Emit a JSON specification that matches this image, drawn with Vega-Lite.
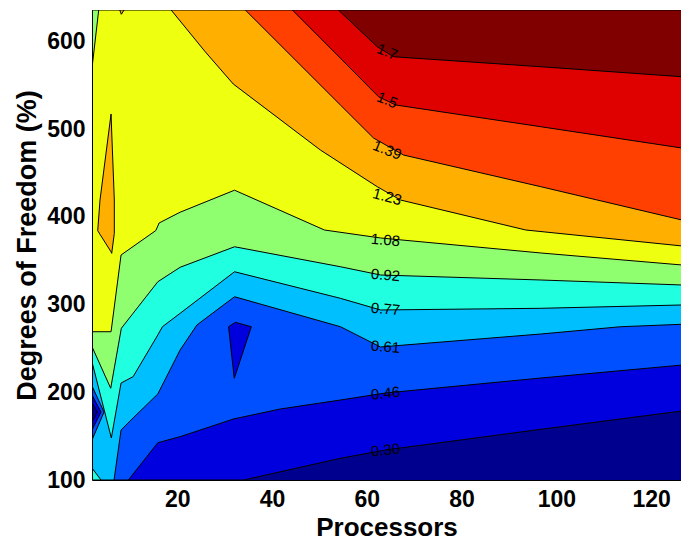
{
"$schema": "https://vega.github.io/schema/vega-lite/v6.json",
"width": 589, "height": 470,
"autosize": {"type": "none"},
"padding": {"left": 92, "top": 10, "right": 0, "bottom": 63},
"background": "white",
"view": {"stroke": null},
"config": {"font": "Liberation Sans"},
"datasets": {
"areas": [
{"p":"L0","b":"b0","x":2,"y":100,"y2":636},{"p":"L0","b":"b0","x":126.5,"y":100,"y2":636},
{"p":"L1","b":"b1","x":2,"y":100,"y2":636},{"p":"L1","b":"b1","x":34.0,"y":100,"y2":636},{"p":"L1","b":"b1","x":54.4,"y":124.7,"y2":636},{"p":"L1","b":"b1","x":63.9,"y":134.2,"y2":636},{"p":"L1","b":"b1","x":96.7,"y":157.8,"y2":636},{"p":"L1","b":"b1","x":126.5,"y":178.7,"y2":636},
{"p":"L2","b":"b2","x":2,"y":100,"y2":636},{"p":"L2","b":"b2","x":9.67,"y":100,"y2":636},{"p":"L2","b":"b2","x":15.89,"y":142.5,"y2":636},{"p":"L2","b":"b2","x":20.6,"y":149.4,"y2":636},{"p":"L2","b":"b2","x":31.87,"y":169.6,"y2":636},{"p":"L2","b":"b2","x":41.75,"y":181.0,"y2":636},{"p":"L2","b":"b2","x":54.43,"y":191.2,"y2":636},{"p":"L2","b":"b2","x":63.94,"y":199.2,"y2":636},{"p":"L2","b":"b2","x":96.71,"y":216.3,"y2":636},{"p":"L2","b":"b2","x":126.5,"y":231.1,"y2":636},
{"p":"L3","b":"b3","x":2,"y":100,"y2":636},{"p":"L3","b":"b3","x":6.65,"y":100,"y2":636},{"p":"L3","b":"b3","x":8.13,"y":157.0,"y2":636},{"p":"L3","b":"b3","x":10.67,"y":170.7,"y2":636},{"p":"L3","b":"b3","x":15.89,"y":198.1,"y2":636},{"p":"L3","b":"b3","x":20.6,"y":248.3,"y2":636},{"p":"L3","b":"b3","x":24.14,"y":276.8,"y2":636},{"p":"L3","b":"b3","x":32.08,"y":309.0,"y2":636},{"p":"L3","b":"b3","x":54.43,"y":274.8,"y2":636},{"p":"L3","b":"b3","x":62.89,"y":251.7,"y2":636},{"p":"L3","b":"b3","x":96.71,"y":266.5,"y2":636},{"p":"L3","b":"b3","x":113.6,"y":274.8,"y2":636},{"p":"L3","b":"b3","x":126.5,"y":277.6,"y2":636},
{"p":"L4","b":"b4","x":2,"y":234.6,"y2":636},{"p":"L4","b":"b4","x":6.08,"y":147.9,"y2":636},{"p":"L4","b":"b4","x":8.13,"y":210.6,"y2":636},{"p":"L4","b":"b4","x":10.67,"y":217.8,"y2":636},{"p":"L4","b":"b4","x":15.89,"y":265.4,"y2":636},{"p":"L4","b":"b4","x":16.86,"y":274.8,"y2":636},{"p":"L4","b":"b4","x":20.6,"y":290.1,"y2":636},{"p":"L4","b":"b4","x":32.08,"y":337.5,"y2":636},{"p":"L4","b":"b4","x":54.43,"y":307.2,"y2":636},{"p":"L4","b":"b4","x":62.89,"y":293.9,"y2":636},{"p":"L4","b":"b4","x":96.71,"y":295.8,"y2":636},{"p":"L4","b":"b4","x":126.5,"y":299.6,"y2":636},
{"p":"L5","b":"b5","x":2,"y":252.0,"y2":636},{"p":"L5","b":"b5","x":5.95,"y":204.6,"y2":636},{"p":"L5","b":"b5","x":8.19,"y":273.0,"y2":636},{"p":"L5","b":"b5","x":10.67,"y":290.1,"y2":636},{"p":"L5","b":"b5","x":15.89,"y":326.1,"y2":636},{"p":"L5","b":"b5","x":20.6,"y":342.6,"y2":636},{"p":"L5","b":"b5","x":32.08,"y":366.0,"y2":636},{"p":"L5","b":"b5","x":54.43,"y":343.2,"y2":636},{"p":"L5","b":"b5","x":62.89,"y":333.8,"y2":636},{"p":"L5","b":"b5","x":96.71,"y":328.1,"y2":636},{"p":"L5","b":"b5","x":126.5,"y":322.4,"y2":636},
{"p":"L6","b":"b6","x":2,"y":269.1,"y2":636},{"p":"L6","b":"b6","x":6.02,"y":269.1,"y2":636},{"p":"L6","b":"b6","x":8.13,"y":356.6,"y2":636},{"p":"L6","b":"b6","x":15.47,"y":384.5,"y2":636},{"p":"L6","b":"b6","x":16.16,"y":393.1,"y2":636},{"p":"L6","b":"b6","x":20.6,"y":405.4,"y2":636},{"p":"L6","b":"b6","x":32.08,"y":430.5,"y2":636},{"p":"L6","b":"b6","x":51.05,"y":385.1,"y2":636},{"p":"L6","b":"b6","x":62.89,"y":376.0,"y2":636},{"p":"L6","b":"b6","x":96.71,"y":358.9,"y2":636},{"p":"L6","b":"b6","x":126.5,"y":345.2,"y2":636},
{"p":"L7","b":"b7","x":18.7,"y":636,"y2":636},{"p":"L7","b":"b7","x":25.89,"y":588.4,"y2":636},{"p":"L7","b":"b7","x":31.81,"y":551.6,"y2":636},{"p":"L7","b":"b7","x":50.2,"y":476.3,"y2":636},{"p":"L7","b":"b7","x":62.19,"y":434.5,"y2":636},{"p":"L7","b":"b7","x":67.12,"y":419.3,"y2":636},{"p":"L7","b":"b7","x":93.54,"y":385.1,"y2":636},{"p":"L7","b":"b7","x":126.5,"y":366.9,"y2":636},
{"p":"L8","b":"b8","x":34.35,"y":636,"y2":636},{"p":"L8","b":"b8","x":54.43,"y":527.6,"y2":636},{"p":"L8","b":"b8","x":61.41,"y":490.0,"y2":636},{"p":"L8","b":"b8","x":67.75,"y":470.6,"y2":636},{"p":"L8","b":"b8","x":96.71,"y":434.5,"y2":636},{"p":"L8","b":"b8","x":126.5,"y":396.5,"y2":636},
{"p":"L9","b":"b9","x":44.28,"y":636,"y2":636},{"p":"L9","b":"b9","x":54.43,"y":580.9,"y2":636},{"p":"L9","b":"b9","x":62.47,"y":537.1,"y2":636},{"p":"L9","b":"b9","x":66.06,"y":527.7,"y2":636},{"p":"L9","b":"b9","x":96.71,"y":502.9,"y2":636},{"p":"L9","b":"b9","x":126.5,"y":478.6,"y2":636},
{"p":"L10","b":"b10","x":54.0,"y":636,"y2":636},{"p":"L10","b":"b10","x":62.19,"y":594.1,"y2":636},{"p":"L10","b":"b10","x":65.64,"y":582.7,"y2":636},{"p":"L10","b":"b10","x":96.71,"y":571.3,"y2":636},{"p":"L10","b":"b10","x":126.5,"y":559.9,"y2":636},
{"p":"O1","b":"b7","x":3.21,"y":384.3,"y2":384.3},{"p":"O1","b":"b7","x":3.69,"y":380.1,"y2":419.3},{"p":"O1","b":"b7","x":6.02,"y":360.2,"y2":517.4},{"p":"O1","b":"b7","x":6.16,"y":358.5,"y2":496.9},{"p":"O1","b":"b7","x":6.71,"y":381.3,"y2":419.3},
{"p":"O2","b":"b1","x":30.82,"y":274.8,"y2":274.8},{"p":"O2","b":"b1","x":32.02,"y":216.0,"y2":279.0},{"p":"O2","b":"b1","x":32.24,"y":219.4,"y2":279.8},{"p":"O2","b":"b1","x":35.62,"y":274.8,"y2":274.8},
{"p":"O3","b":"b2","x":2,"y":145.6,"y2":207.2},{"p":"O3","b":"b2","x":4.54,"y":177.5,"y2":177.5},
{"p":"O4","b":"b1","x":2,"y":157.0,"y2":196.9},{"p":"O4","b":"b1","x":3.9,"y":177.5,"y2":177.5},
{"p":"O5","b":"b0","x":2,"y":166.1,"y2":187.8},{"p":"O5","b":"b0","x":3.16,"y":177.5,"y2":177.5},
{"p":"O6","b":"b4","x":2,"y":100,"y2":113.7},{"p":"O6","b":"b4","x":3.9,"y":100,"y2":100},
{"p":"O7","b":"b5","x":2,"y":569.8,"y2":636},{"p":"O7","b":"b5","x":3.42,"y":636,"y2":636},
{"p":"O8","b":"b7","x":7.86,"y":636,"y2":636},{"p":"O8","b":"b7","x":8.19,"y":631.1,"y2":636},{"p":"O8","b":"b7","x":8.77,"y":636,"y2":636}
],
"labels": [
{"t":"1.7","x":64.3,"y":588.4},{"t":"1.5","x":64.3,"y":533.4},{"t":"1.39","x":64.3,"y":476.3},{"t":"1.23","x":64.3,"y":423.1},{"t":"1.08","x":63.94,"y":373.7},{"t":"0.92","x":63.94,"y":333.8},{"t":"0.77","x":63.94,"y":295.0},{"t":"0.61","x":63.94,"y":252.0},{"t":"0.46","x":63.94,"y":198.9},{"t":"0.30","x":63.94,"y":134.2}
]
},
"data": {"name": "areas"},
"encoding": {
"x": {"field": "x", "type": "quantitative", "scale": {"domain": [2, 126.3], "nice": false, "zero": false},
 "axis": {"values": [20,40,60,80,100,120], "title": "Processors", "grid": false, "ticks": false, "tickSize": 0, "labelFlush": false,
  "labelFont": "Liberation Sans", "labelFontWeight": "bold", "labelFontSize": 23, "labelColor": "black", "labelPadding": 8,
  "domainColor": "black", "domainWidth": 1, "titleFont": "Liberation Sans", "titleFontWeight": "bold", "titleFontSize": 26, "titleColor": "black", "titlePadding": 3, "zindex": 1}},
"y": {"field": "y", "type": "quantitative", "stack": null, "scale": {"domain": [100, 636], "nice": false, "zero": false},
 "axis": {"values": [100,200,300,400,500,600], "title": "Degrees of Freedom (%)", "grid": false, "ticks": false, "tickSize": 0, "labelFlush": false,
  "labelFont": "Liberation Sans", "labelFontWeight": "bold", "labelFontSize": 23, "labelColor": "black", "labelPadding": 7,
  "domainColor": "black", "domainWidth": 1, "titleFont": "Liberation Sans", "titleFontWeight": "bold", "titleFontSize": 27, "titleColor": "black", "titlePadding": 5, "zindex": 1}},
"y2": {"field": "y2"},
"color": {"field": "b", "type": "nominal", "legend": null,
 "scale": {"domain": ["b0","b1","b2","b3","b4","b5","b6","b7","b8","b9","b10"],
  "range": ["#00008F","#0000DF","#0050FF","#00BFFF","#20FFDF","#8FFF70","#EFFF10","#FFAF00","#FF4000","#DF0000","#800000"]}}
},
"layer": [
{"transform": [{"filter": "datum.p === 'L0'"}], "mark": {"type": "area", "strokeWidth": 0, "clip": true}},
{"transform": [{"filter": "datum.p === 'L1'"}], "mark": {"type": "area", "stroke": "black", "strokeWidth": 1, "clip": true}},
{"transform": [{"filter": "datum.p === 'L2'"}], "mark": {"type": "area", "stroke": "black", "strokeWidth": 1, "clip": true}},
{"transform": [{"filter": "datum.p === 'L3'"}], "mark": {"type": "area", "stroke": "black", "strokeWidth": 1, "clip": true}},
{"transform": [{"filter": "datum.p === 'L4'"}], "mark": {"type": "area", "stroke": "black", "strokeWidth": 1, "clip": true}},
{"transform": [{"filter": "datum.p === 'L5'"}], "mark": {"type": "area", "stroke": "black", "strokeWidth": 1, "clip": true}},
{"transform": [{"filter": "datum.p === 'L6'"}], "mark": {"type": "area", "stroke": "black", "strokeWidth": 1, "clip": true}},
{"transform": [{"filter": "datum.p === 'L7'"}], "mark": {"type": "area", "stroke": "black", "strokeWidth": 1, "clip": true}},
{"transform": [{"filter": "datum.p === 'L8'"}], "mark": {"type": "area", "stroke": "black", "strokeWidth": 1, "clip": true}},
{"transform": [{"filter": "datum.p === 'L9'"}], "mark": {"type": "area", "stroke": "black", "strokeWidth": 1, "clip": true}},
{"transform": [{"filter": "datum.p === 'L10'"}], "mark": {"type": "area", "stroke": "black", "strokeWidth": 1, "clip": true}},
{"transform": [{"filter": "datum.p === 'O1'"}], "mark": {"type": "area", "stroke": "black", "strokeWidth": 1, "clip": true}},
{"transform": [{"filter": "datum.p === 'O2'"}], "mark": {"type": "area", "stroke": "black", "strokeWidth": 1, "clip": true}},
{"transform": [{"filter": "datum.p === 'O3'"}], "mark": {"type": "area", "stroke": "black", "strokeWidth": 1, "clip": true}},
{"transform": [{"filter": "datum.p === 'O4'"}], "mark": {"type": "area", "stroke": "black", "strokeWidth": 1, "clip": true}},
{"transform": [{"filter": "datum.p === 'O5'"}], "mark": {"type": "area", "stroke": "black", "strokeWidth": 1, "clip": true}},
{"transform": [{"filter": "datum.p === 'O6'"}], "mark": {"type": "area", "stroke": "black", "strokeWidth": 1, "clip": true}},
{"transform": [{"filter": "datum.p === 'O7'"}], "mark": {"type": "area", "stroke": "black", "strokeWidth": 1, "clip": true}},
{"transform": [{"filter": "datum.p === 'O8'"}], "mark": {"type": "area", "stroke": "black", "strokeWidth": 1, "clip": true}},
{"data": {"name": "labels"}, "transform": [{"filter": "indexof(['1.7','1.5','1.39'], datum.t) >= 0"}],
 "mark": {"type": "text", "font": "Liberation Sans", "fontSize": 15, "angle": 22, "align": "center", "baseline": "middle"},
 "encoding": {"text": {"field": "t"}, "color": {"value": "black"}}},
{"data": {"name": "labels"}, "transform": [{"filter": "datum.t === '1.23'"}],
 "mark": {"type": "text", "font": "Liberation Sans", "fontSize": 15, "angle": 15, "align": "center", "baseline": "middle"},
 "encoding": {"text": {"field": "t"}, "color": {"value": "black"}}},
{"data": {"name": "labels"}, "transform": [{"filter": "indexof(['1.08','0.92','0.77','0.61'], datum.t) >= 0"}],
 "mark": {"type": "text", "font": "Liberation Sans", "fontSize": 15, "angle": 5, "align": "center", "baseline": "middle"},
 "encoding": {"text": {"field": "t"}, "color": {"value": "black"}}},
{"data": {"name": "labels"}, "transform": [{"filter": "indexof(['0.46','0.30'], datum.t) >= 0"}],
 "mark": {"type": "text", "font": "Liberation Sans", "fontSize": 15, "angle": -6, "align": "center", "baseline": "middle"},
 "encoding": {"text": {"field": "t"}, "color": {"value": "black"}}},
{"data": {"values": [{}]}, "mark": {"type": "rule", "color": "black", "strokeWidth": 1.5},
 "encoding": {"x": {"datum": 2}, "x2": {"datum": 126.3}, "y": {"datum": 636}, "y2": {"datum": 636}, "color": {"value": "black"}}}
]
}
